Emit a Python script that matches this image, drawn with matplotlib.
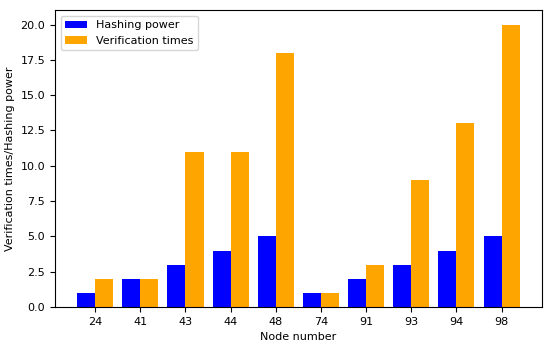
import numpy as np
import matplotlib
matplotlib.use('Agg')
from matplotlib import pyplot as plt

# du lieu doc tu hinh
nodes = ['24', '41', '43', '44', '48', '74', '91', '93', '94', '98']
hashing_power = [1, 2, 3, 4, 5, 1, 2, 3, 4, 5]
verification_times = [2, 2, 11, 11, 18, 1, 3, 9, 13, 20]

plt.rcParams['font.size'] = 8
fig, ax = plt.subplots(figsize=(5.5, 3.47), dpi=100)
x = np.arange(len(nodes))
w = 0.4
ax.bar(x - w / 2, hashing_power, w, color='blue', label='Hashing power')
ax.bar(x + w / 2, verification_times, w, color='orange', label='Verification times')
ax.set_xticks(x)
ax.set_xticklabels(nodes)
ax.set_xlabel('Node number')
ax.set_ylabel('Verification times/Hashing power')
ax.legend(loc='upper left')
fig.subplots_adjust(left=0.1, right=0.985, top=0.97, bottom=0.115)
fig.savefig('out.png')
